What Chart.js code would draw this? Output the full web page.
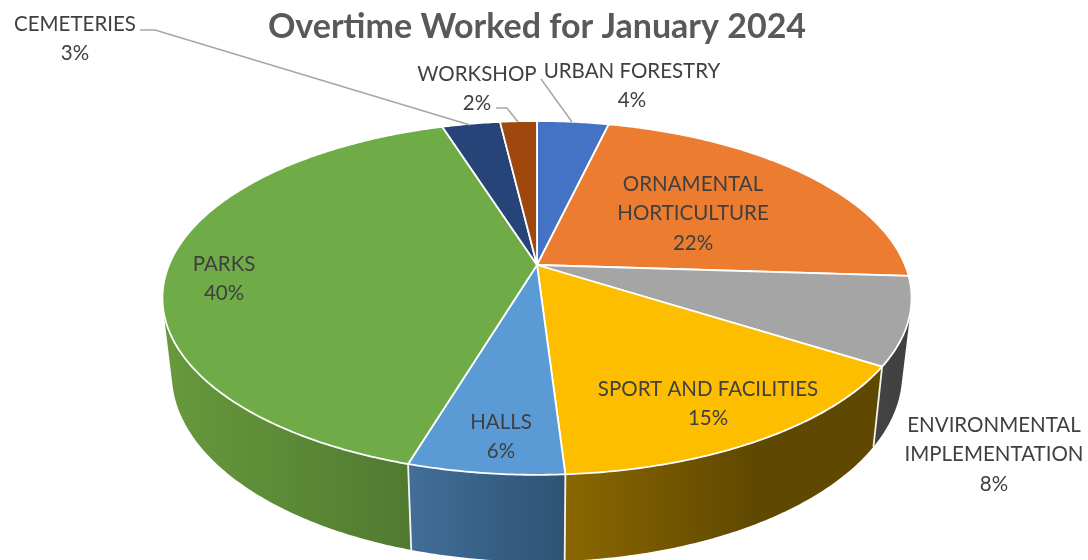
<!DOCTYPE html>
<html>
<head>
<meta charset="utf-8">
<style>html,body{margin:0;padding:0;background:#fff}#wrap{width:1088px;height:560px}</style>
<script src="https://cdn.jsdelivr.net/npm/chart.js@4"></script>
</head>
<body>
<div id="wrap"><canvas id="c" width="1088" height="560"></canvas></div>
<script>
const chartTitle = "Overtime Worked for January 2024";
const categories = ["URBAN FORESTRY","ORNAMENTAL HORTICULTURE","ENVIRONMENTAL IMPLEMENTATION","SPORT AND FACILITIES","HALLS","PARKS","CEMETERIES","WORKSHOP"];
const overtimeShare = [3.7,22.3,8,15,5.65,40.45,3,1.9];
const sliceColors = ["#4472C4","#EC7C30","#A5A5A5","#FDBE00","#5B9BD5","#6FAC47","#264478","#9E480E"];
const wallColors = [["#2f5090","#2f5090"],["#a85820","#a85820"],["#434343","#404040"],["#8A6700","#5F4800"],["#426E98","#2E5374"],["#67993C","#4E7630"],["#1a3054","#1a3054"],["#6f320a","#6f320a"]];
const labelLines = [["URBAN FORESTRY"],["ORNAMENTAL","HORTICULTURE"],["ENVIRONMENTAL","IMPLEMENTATION"],["SPORT AND FACILITIES"],["HALLS"],["PARKS"],["CEMETERIES"],["WORKSHOP"]];
// label centre x and first-line y
const labelAnchors = [[632,71],[693,184],[994,425],[708,389],[501,422],[224,264],[75,24],[477,74]];
const labelLineGap = 29.5;
const leaderLines = [[[541,79],[572,122]],null,null,null,null,null,[[140,30],[155,30],[470,125]],[[496,108],[507,108],[518,122]]];

// perspective of the pie's top face, and offset of the lower face
const view = {a:368, b:170.8, k:0.186, lowX:0.975, lowY:1.06, lowDy:74};
const top3d = (cx,cy,ang)=>{
  const x=Math.cos(ang), y=Math.sin(ang), w=1-view.k*y;
  return [cx+view.a*x/w, cy+view.b*y/w];
};
const low3d = (cx,cy,ang)=>{
  const p=top3d(cx,cy,ang);
  return [cx+(p[0]-cx)*view.lowX, cy+(p[1]-cy)*view.lowY+view.lowDy];
};
const arcSteps = (s,e)=>{
  const n=Math.max(4,Math.ceil((e-s)/0.01)), out=[];
  for(let i=0;i<=n;i++) out.push(s+(e-s)*i/n);
  return out;
};
const quadArea = q=>{
  let s=0;
  q.forEach((p,i)=>{const r=q[(i+1)%4];s+=p[0]*r[1]-r[0]*p[1];});
  return s;
};

const pie3d = {
  id:"pie3d",
  beforeDatasetsDraw(chart){
    const ctx=chart.ctx, arcs=chart.getDatasetMeta(0).data;
    ctx.save();
    ctx.lineJoin="round";
    // each wall is one path of consistently wound quads, so it fills without seams
    arcs.forEach((arc,i)=>{
      const st=arcSteps(arc.startAngle,arc.endAngle);
      const up=st.map(a=>top3d(arc.x,arc.y,a)), dn=st.map(a=>low3d(arc.x,arc.y,a));
      const xs=up.concat(dn).map(p=>p[0]);
      const g=ctx.createLinearGradient(Math.min(...xs),0,Math.max(...xs),0);
      g.addColorStop(0,wallColors[i][0]);
      g.addColorStop(i===3?0.6:1,wallColors[i][1]);
      g.addColorStop(1,wallColors[i][1]);
      ctx.fillStyle=g;
      ctx.beginPath();
      for(let j=0;j<st.length-1;j++){
        let q=[up[j],up[j+1],dn[j+1],dn[j]];
        if(quadArea(q)<0) q=q.reverse();
        q.forEach((p,n)=>n?ctx.lineTo(p[0],p[1]):ctx.moveTo(p[0],p[1]));
        ctx.closePath();
      }
      ctx.fill("nonzero");
    });
    arcs.forEach((arc,i)=>{
      const a0=low3d(arc.x,arc.y,arc.startAngle), t0=top3d(arc.x,arc.y,arc.startAngle);
      const sa=Math.sin(arc.startAngle);
      if(sa>0.3){
        ctx.beginPath();ctx.moveTo(t0[0],t0[1]);ctx.lineTo(a0[0],a0[1]);
        ctx.strokeStyle="#f4f4f4";ctx.lineWidth=1.8;ctx.stroke();
      }
    });
    // top face
    arcs.forEach((arc,i)=>{
      ctx.beginPath();
      ctx.moveTo(arc.x,arc.y);
      arcSteps(arc.startAngle,arc.endAngle).forEach(a=>{const p=top3d(arc.x,arc.y,a);ctx.lineTo(p[0],p[1]);});
      ctx.closePath();
      ctx.fillStyle=arc.options.backgroundColor; ctx.fill();
      ctx.strokeStyle="#ffffff"; ctx.lineWidth=1.8; ctx.stroke();
    });
    // leader lines
    ctx.strokeStyle="#a6a6a6"; ctx.lineWidth=1.5;
    leaderLines.forEach(l=>{
      if(!l) return;
      ctx.beginPath();
      l.forEach((p,j)=>j?ctx.lineTo(p[0],p[1]):ctx.moveTo(p[0],p[1]));
      ctx.stroke();
    });
    // labels
    const total=overtimeShare.reduce((a,b)=>a+b,0);
    ctx.font='20.5px Lato, Carlito, sans-serif';
    ctx.fillStyle="#404040"; ctx.textAlign="center"; ctx.textBaseline="middle";
    labelLines.forEach((lines,i)=>{
      const [x,y]=labelAnchors[i];
      lines.concat(Math.round(overtimeShare[i]/total*100)+"%").forEach((t,j)=>ctx.fillText(t,x,y+j*labelLineGap));
    });
    ctx.restore();
    return false;
  }
};

new Chart(document.getElementById("c"),{
  type:"pie",
  data:{labels:categories,datasets:[{data:overtimeShare,backgroundColor:sliceColors,borderWidth:0}]},
  options:{
    responsive:false,animation:false,
    layout:{padding:{top:0,left:0,right:14,bottom:82.4}},
    events:[],
    plugins:{
      legend:{display:false},tooltip:{enabled:false},
      title:{display:true,text:chartTitle,color:"#595959",font:{family:"Lato, Carlito, sans-serif",size:34,weight:"bold",lineHeight:1.2},padding:{top:7,bottom:4.6}}
    }
  },
  plugins:[pie3d]
});
</script>
</body>
</html>
